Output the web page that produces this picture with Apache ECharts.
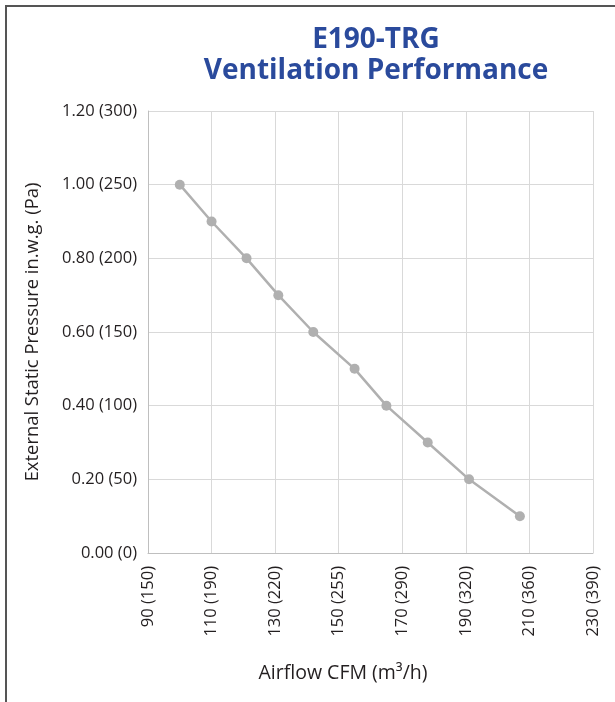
<!DOCTYPE html>
<html>
<head>
<meta charset="utf-8">
<script src="https://cdn.jsdelivr.net/npm/echarts@6/dist/echarts.min.js"></script>
<style>
html,body{margin:0;padding:0;background:#fff;}
#chart{width:615px;height:702px;}
</style>
</head>
<body>
<div id="chart"></div>
<script>
// Data
const airflowCFM = [100, 110, 121, 131, 142, 155, 165, 178, 191, 207];
const pressureInWG = [1.0, 0.9, 0.8, 0.7, 0.6, 0.5, 0.4, 0.3, 0.2, 0.1];
const xTickValues = [90, 110, 130, 150, 170, 190, 210, 230];
const xTickLabels = ["90 (150)", "110 (190)", "130 (220)", "150 (255)", "170 (290)", "190 (320)", "210 (360)", "230 (390)"];
const yTickValues = [0, 0.2, 0.4, 0.6, 0.8, 1.0, 1.2];
const yTickLabels = ["0.00 (0)", "0.20 (50)", "0.40 (100)", "0.60 (150)", "0.80 (200)", "1.00 (250)", "1.20 (300)"];
const titleText = "E190-TRG\nVentilation Performance";
const xAxisName = "Airflow CFM (m³/h)";
const yAxisName = "External Static Pressure in.w.g. (Pa)";

function lookup(values, labels, v) {
  for (let i = 0; i < values.length; i++) {
    if (Math.abs(values[i] - v) < 1e-6) return labels[i];
  }
  return '';
}

const FONT = '"Open Sans", sans-serif';
const chart = echarts.init(document.getElementById('chart'), null, {renderer: 'canvas'});
chart.setOption({
  animation: false,
  backgroundColor: '#fff',
  title: {
    text: titleText,
    left: 371,
    top: 20,
    textAlign: 'center',
    textStyle: {
      fontFamily: FONT,
      fontWeight: 'bold',
      fontSize: 28,
      lineHeight: 31,
      color: '#2a4a9c'
    }
  },
  graphic: [{
    type: 'polyline',
    shape: {points: [[6, 702], [6, 6], [615, 6]]},
    style: {stroke: '#555', lineWidth: 2, fill: null},
    silent: true
  }],
  grid: {left: 148, right: 22, top: 111, bottom: 149, containLabel: false},
  xAxis: {
    type: 'value',
    min: 90, max: 230, interval: 20,
    name: xAxisName,
    nameLocation: 'middle',
    nameGap: 110,
    nameTextStyle: {fontFamily: FONT, fontSize: 19.5, color: '#231f20', padding: [0, 55, 0, 0]},
    axisLine: {show: true, lineStyle: {color: '#bfbfbf', width: 1}},
    axisTick: {show: false},
    splitLine: {show: true, lineStyle: {color: '#d9d9d9', width: 1}},
    axisLabel: {
      rotate: 90, margin: 13,
      fontFamily: FONT, fontSize: 16.5, color: '#231f20',
      formatter: v => lookup(xTickValues, xTickLabels, v)
    }
  },
  yAxis: {
    type: 'value',
    min: 0, max: 1.2, interval: 0.2,
    name: yAxisName,
    nameLocation: 'middle',
    nameGap: 106,
    nameRotate: 90,
    nameTextStyle: {fontFamily: FONT, fontSize: 18.4, color: '#231f20'},
    axisLine: {show: true, lineStyle: {color: '#bfbfbf', width: 1}},
    axisTick: {show: false},
    splitLine: {show: true, lineStyle: {color: '#d9d9d9', width: 1}},
    axisLabel: {
      margin: 11,
      fontFamily: FONT, fontSize: 16.5, color: '#231f20',
      formatter: v => lookup(yTickValues, yTickLabels, v)
    }
  },
  series: [{
    type: 'line',
    data: airflowCFM.map((x, i) => [x, pressureInWG[i]]),
    symbol: 'circle',
    symbolSize: 10,
    lineStyle: {color: '#b0b0b0', width: 2.5},
    itemStyle: {color: '#b0b0b0'},
    z: 3
  }]
});
</script>
</body>
</html>
